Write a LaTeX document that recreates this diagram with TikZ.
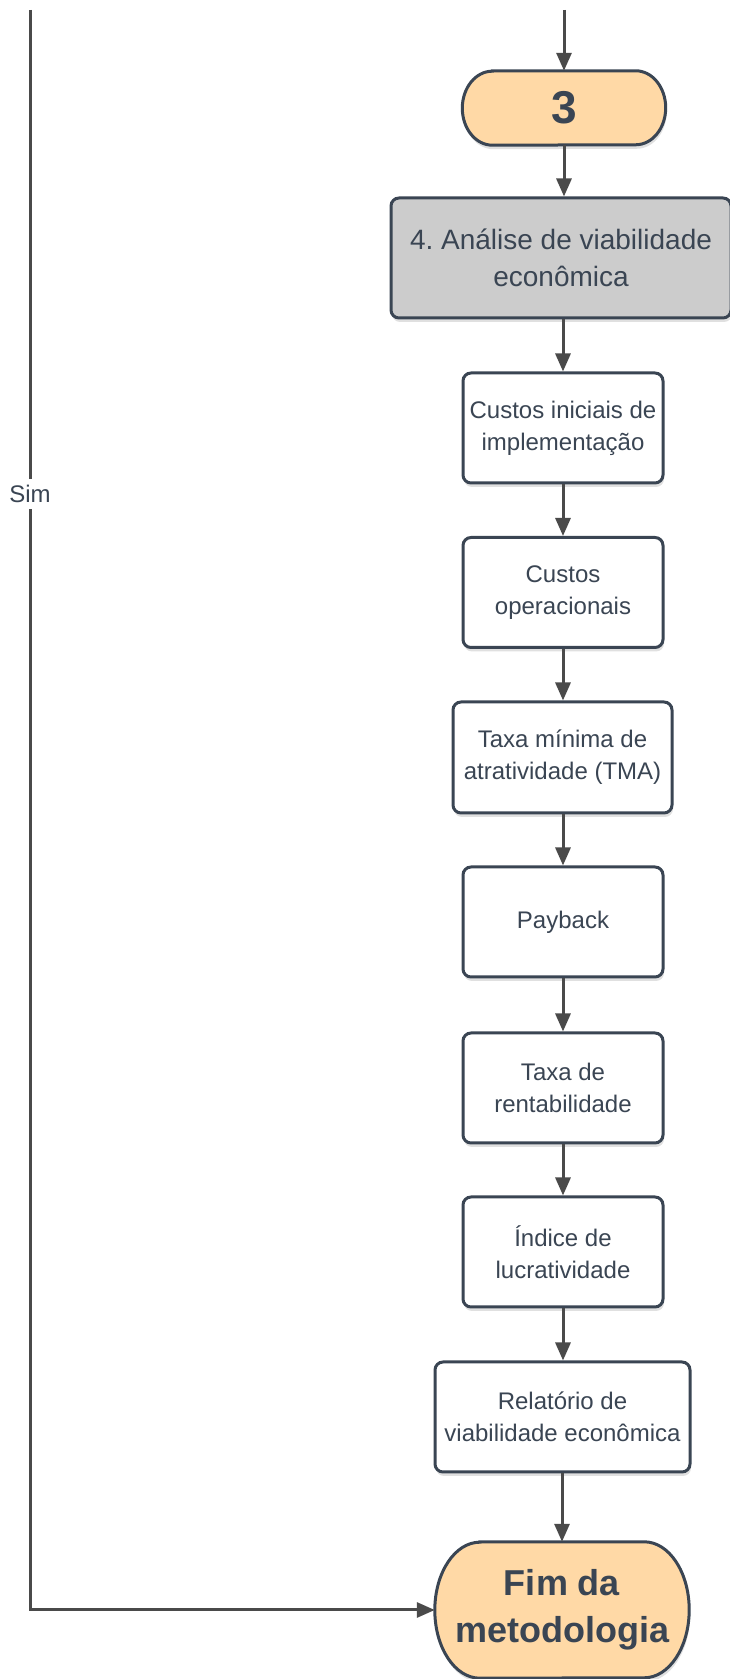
\documentclass[tikz,border=0pt]{standalone}
\usepackage{fontspec}
\setmainfont{Liberation Sans}
\usetikzlibrary{arrows.meta,shadows,calc,backgrounds}
\frenchspacing
\definecolor{ink}{HTML}{3A4553}
\definecolor{wire}{HTML}{4A4A4A}
\definecolor{peach}{HTML}{FFD9A6}
\definecolor{panel}{HTML}{CCCCCC}
\tikzset{
  softshadow/.style={drop shadow={shadow xshift=1pt, shadow yshift=-4pt, opacity=0.12, fill=black}},
  stepbox/.style={draw=ink, line width=3pt, fill=white, rounded corners=8pt,
    minimum width=200pt, minimum height=110pt, inner sep=0pt, align=center,
    text=ink, font=\fontsize{24}{32}\selectfont, softshadow},
  phasebox/.style={stepbox, fill=panel, minimum width=340pt, minimum height=120pt,
    font=\fontsize{28}{37}\selectfont},
  termtext/.style={inner sep=0pt, align=center, text=ink},
  termline/.style={draw=ink, line width=3pt, fill=peach, softshadow},
  flow/.style={draw=wire, line width=3pt, -{Triangle[length=18pt,width=15pt]}},
  tag/.style={fill=white, text=ink, inner xsep=2pt, inner ysep=6pt, font=\fontsize{24}{28}\selectfont}
}
% outline of a terminal: straight top and bottom, elliptical ends
\newcommand\termoutline[3]{%
  \draw[termline] ($(#1.north west)+(#2,0)$) -- ($(#1.north east)+(-#2,0)$)
    arc[start angle=90, end angle=-90, x radius=#2, y radius=#3]
    -- ($(#1.south west)+(#2,0)$)
    arc[start angle=270, end angle=90, x radius=#2, y radius=#3] -- cycle;}
\begin{document}
\begin{tikzpicture}[x=1pt,y=1pt]
\useasboundingbox (0,0) rectangle (730,1679);

% terminals
\node[termtext, minimum width=203pt, minimum height=74pt,
  font=\fontsize{46}{50}\selectfont\bfseries] (three) at (564,1571) {3};
\node[termtext, minimum width=254pt, minimum height=136pt,
  font=\fontsize{36}{47}\selectfont\bfseries] (fim) at (562,69) {Fim da\\metodologia};
\begin{scope}[on background layer]
  \termoutline{three}{30pt}{37pt}
  \termoutline{fim}{45pt}{68pt}
\end{scope}

% phase and steps
\node[phasebox] (ana) at (561,1421) {4. Análise de viabilidade\\econômica};
\node[stepbox] (c1) at (563,1251) {Custos iniciais de\\implementação};
\node[stepbox] (c2) at (563,1086.5) {Custos\\operacionais};
\node[stepbox, minimum width=219pt, minimum height=111pt] (tma) at (562.5,921.5) {Taxa mínima de\\atratividade (TMA)};
\node[stepbox] (pay) at (563,757) {Payback};
\node[stepbox] (rent) at (563,591) {Taxa de\\rentabilidade};
\node[stepbox] (ind) at (563,427) {Índice de\\lucratividade};
\node[stepbox, minimum width=255pt] (rel) at (562.5,262) {Relatório de\\viabilidade econômica};

% incoming connectors
\coordinate (intop) at (564,1669);
\coordinate (lefttop) at (30,1669);
\draw[flow] (intop) -- (three.north);

% main chain
\draw[flow] (three.south) -- (three.south |- ana.north);
\draw[flow] (c1.north |- ana.south) -- (c1.north);
\draw[flow] (c1.south) -- (c2.north);
\draw[flow] (c2.south) -- (c2.south |- tma.north);
\draw[flow] (c2.south |- tma.south) -- (pay.north);
\draw[flow] (pay.south) -- (rent.north);
\draw[flow] (rent.south) -- (ind.north);
\draw[flow] (ind.south) -- (ind.south |- rel.north);
\draw[flow] (fim.north |- rel.south) -- (fim.north);

% "Sim" branch down the left side
\draw[flow] (lefttop) |- (fim.west);
\node[tag] (sim) at (30,1185) {Sim};
\end{tikzpicture}
\end{document}
